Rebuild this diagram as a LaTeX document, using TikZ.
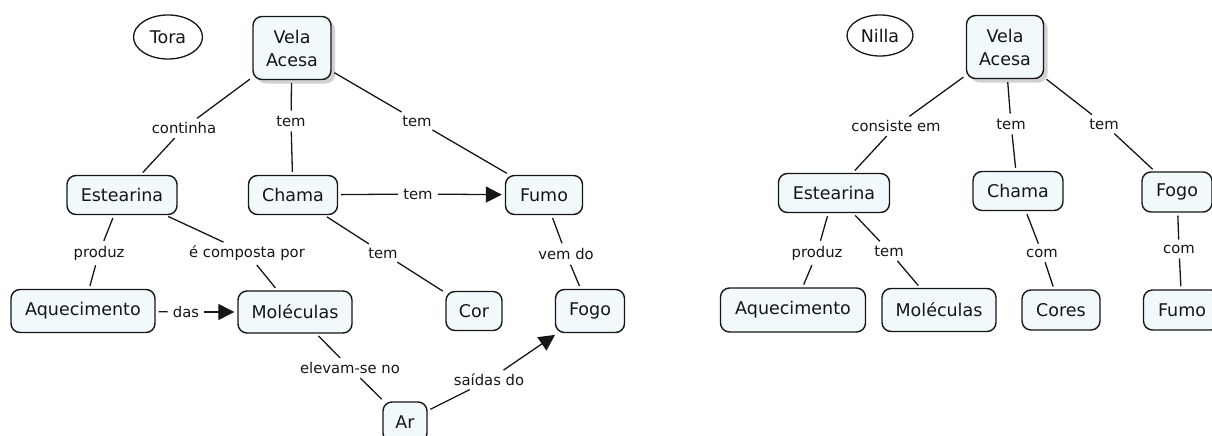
\documentclass[tikz,border=0pt]{standalone}
\usepackage{fontspec}
\setmainfont{DejaVu Sans}
\usetikzlibrary{arrows.meta,shadows,shapes.geometric}
\definecolor{conceptfill}{RGB}{241,249,253}
\definecolor{ink}{RGB}{22,22,22}
\begin{document}
\begin{tikzpicture}[x=1pt,y=-1pt,
  concept/.style={draw=ink, line width=1.4pt, rounded corners=9pt, fill=conceptfill,
    font=\fontsize{17.5}{23}\selectfont, text=ink, inner sep=0pt, align=center},
  mainconcept/.style={concept, general shadow={fill=black!18, shadow xshift=4pt, shadow yshift=-4pt}},
  author/.style={ellipse, draw=ink, line width=1.3pt, fill=white, inner sep=0pt,
    font=\fontsize{17.5}{21}\selectfont, text=ink},
  lbl/.style={font=\fontsize{14.8}{17}\selectfont, text=ink, inner sep=2pt},
  lk/.style={draw=ink, line width=1.3pt, shorten <=3pt, shorten >=3pt},
  arr/.style={lk, -{Triangle[length=16pt,width=16pt]}},
]
\useasboundingbox (0,0) rectangle (1212,436);
\clip (0,0) rectangle (1212,436);

% ---------- Tora ----------
\node[author, minimum width=69pt, minimum height=44pt] (tora) at (168,37) {Tora};
\node[mainconcept, minimum width=78pt, minimum height=63pt] (tvela) at (292,48) {Vela\\Acesa};
\node[concept, minimum width=110pt, minimum height=39pt] (test) at (122,195) {Estearina};
\node[concept, minimum width=89pt, minimum height=39pt] (tchama) at (293,195) {Chama};
\node[concept, minimum width=77pt, minimum height=39pt] (tfumo) at (544,195) {Fumo};
\node[concept, minimum width=144pt, minimum height=43pt] (taq) at (83,311) {Aquecimento};
\node[concept, minimum width=114pt, minimum height=42pt] (tmol) at (295,312) {Moléculas};
\node[concept, minimum width=56pt, minimum height=39pt] (tcor) at (474,311) {Cor};
\node[concept, minimum width=69pt, minimum height=43pt] (tfogo) at (590,311) {Fogo};
\node[concept, minimum width=44pt, minimum height=40pt] (tar) at (405,422) {Ar};

\node[lbl] (l1) at (184,128) {continha};
\node[lbl] (l2) at (291,121) {tem};
\node[lbl] (l3) at (417,121) {tem};
\node[lbl] (l4) at (418,194) {tem};
\node[lbl] (l5) at (99,253) {produz};
\node[lbl] (l6) at (247,253) {é composta por};
\node[lbl] (l7) at (383,253) {tem};
\node[lbl] (l8) at (566,254) {vem do};
\node[lbl] (l9) at (186,312) {das};
\node[lbl] (l10) at (350,368) {elevam-se no};
\node[lbl] (l11) at (489,380) {saídas do};

\draw[lk] (tvela) -- (l1); \draw[lk] (l1) -- (test);
\draw[lk] (tvela) -- (l2); \draw[lk] (l2) -- (tchama);
\draw[lk] (tvela) -- (l3); \draw[lk] (l3) -- (tfumo);
\draw[lk] (tchama) -- (l4); \draw[arr] (l4) -- (tfumo);
\draw[lk] (test) -- (l5); \draw[lk] (l5) -- (taq);
\draw[lk] (test) -- (l6); \draw[lk] (l6) -- (tmol);
\draw[lk] (tchama) -- (l7); \draw[lk] (l7) -- (tcor);
\draw[lk] (tfumo) -- (l8); \draw[lk] (l8) -- (tfogo);
\draw[lk] (taq) -- (l9); \draw[arr] (l9) -- (tmol);
\draw[lk] (tmol) -- (l10); \draw[lk] (l10) -- (tar);
\draw[lk] (tar) -- (l11); \draw[arr] (l11) -- (tfogo);

% ---------- Nilla ----------
\node[author, minimum width=66pt, minimum height=41pt] (nilla) at (880,35.5) {Nilla};
\node[mainconcept, minimum width=77pt, minimum height=63pt] (nvela) at (1005,47) {Vela\\Acesa};
\node[concept, minimum width=111pt, minimum height=39pt] (nest) at (834,193) {Estearina};
\node[concept, minimum width=90pt, minimum height=39pt] (nchama) at (1018,191) {Chama};
\node[concept, minimum width=70pt, minimum height=40pt] (nfogo) at (1177,192) {Fogo};
\node[concept, minimum width=145pt, minimum height=44pt] (naq) at (793,310) {Aquecimento};
\node[concept, minimum width=114pt, minimum height=43pt] (nmol) at (939,310) {Moléculas};
\node[concept, minimum width=78pt, minimum height=40pt] (ncores) at (1061,310) {Cores};
\node[concept, minimum width=77pt, minimum height=40pt] (nfumo) at (1182,310) {Fumo};

\node[lbl] (m1) at (896,126) {consiste em};
\node[lbl] (m2) at (1011,124) {tem};
\node[lbl] (m3) at (1104,124) {tem};
\node[lbl] (m4) at (817,253) {produz};
\node[lbl] (m5) at (889,251) {tem};
\node[lbl] (m6) at (1042,253) {com};
\node[lbl] (m7) at (1179,249) {com};

\draw[lk] (nvela) -- (m1); \draw[lk] (m1) -- (nest);
\draw[lk] (nvela) -- (m2); \draw[lk] (m2) -- (nchama);
\draw[lk] (nvela) -- (m3); \draw[lk] (m3) -- (nfogo);
\draw[lk] (nest) -- (m4); \draw[lk] (m4) -- (naq);
\draw[lk] (nest) -- (m5); \draw[lk] (m5) -- (nmol);
\draw[lk] (nchama) -- (m6); \draw[lk] (m6) -- (ncores);
\draw[lk] (nfogo) -- (m7); \draw[lk] (m7) -- (nfumo);
\end{tikzpicture}
\end{document}
